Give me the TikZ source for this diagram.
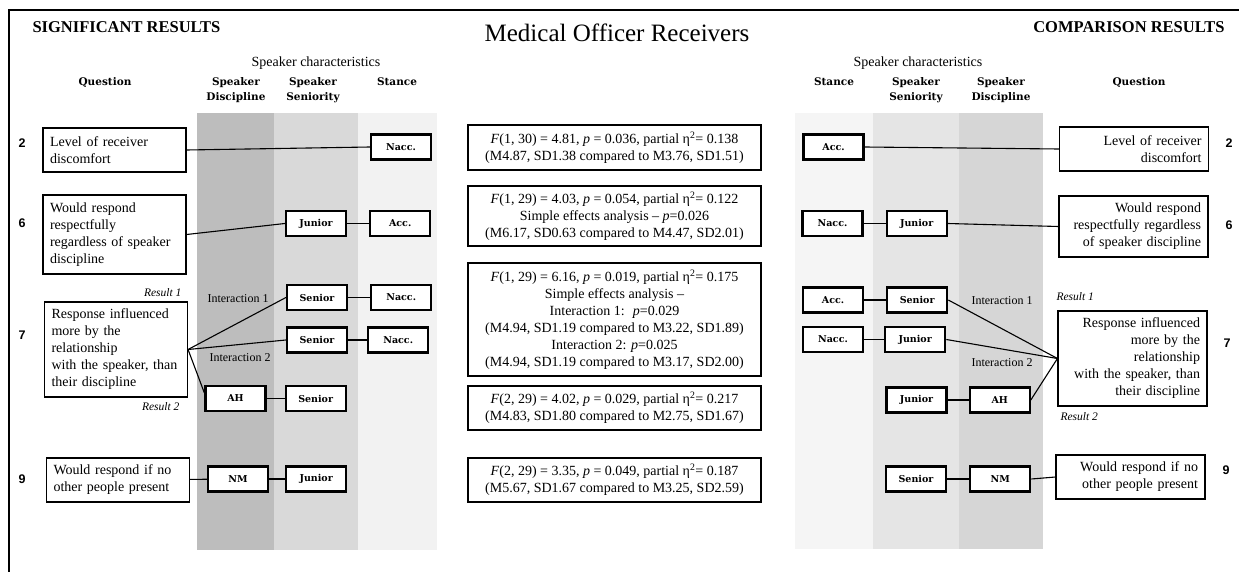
\documentclass[tikz,border=0pt]{standalone}
\usepackage{fontspec}
\setmainfont{Liberation Serif}
\newfontfamily\numfont{Liberation Sans}
\newfontfamily\lblfont{DejaVu Serif}
\usetikzlibrary{positioning}
\definecolor{discL}{gray}{0.74}
\definecolor{senL}{gray}{0.85}
\definecolor{stL}{gray}{0.95}
\definecolor{discR}{gray}{0.84}
\definecolor{senR}{gray}{0.90}
\definecolor{stR}{gray}{0.96}
\tikzset{
	qbox/.style={draw, fill=white, line width=1.1pt, inner xsep=7pt, font=\fontsize{14}{17}\selectfont},
	qleft/.style={qbox, text width=129pt, align=left},
	qright/.style={qbox, text width=135pt, align=right},
	rbox/.style={draw, fill=white, line width=1.1pt, minimum width=293pt, align=center, font=\fontsize{14}{17}\selectfont},
	sbox/.style={draw, fill=white, line width=2.2pt, minimum width=60pt, minimum height=25pt, inner sep=0pt, font=\lblfont\bfseries\fontsize{9.5}{11}\selectfont},
	hdr/.style={anchor=north, align=center, font=\lblfont\bfseries\fontsize{10.5}{15}\selectfont},
	num/.style={font=\numfont\bfseries\fontsize{12.5}{14}\selectfont},
	res/.style={font=\itshape\fontsize{11.5}{13}\selectfont},
	inter/.style={font=\fontsize{12}{14}\selectfont},
	conn/.style={line width=1.1pt}
}
\begin{document}
\begin{tikzpicture}[x=1pt,y=-1pt]
		\useasboundingbox (0,0) rectangle (1239,572);
		\fill[discL] (197,113) rectangle (274,550);
		\fill[senL] (274,113) rectangle (358,550);
		\fill[stL] (358,113) rectangle (437,550);
		\fill[stR] (795,113) rectangle (873,549);
		\fill[senR] (873,113) rectangle (959,549);
		\fill[discR] (959,113) rectangle (1043,549);
		\draw[line width=1.3pt] (9,572) -- (9,10) -- (1239,10);

		\node (sig) [anchor=west, font=\bfseries\fontsize{16.5}{18}\selectfont] at (29,27) {SIGNIFICANT RESULTS};
		\node (title) [font=\fontsize{25}{28}\selectfont] at (617,33) {Medical Officer Receivers};
		\node (comp) [anchor=east, font=\bfseries\fontsize{16.5}{18}\selectfont] at (1228,27) {COMPARISON RESULTS};

		\node (chL) [font=\fontsize{14}{16}\selectfont] at (316,63) {Speaker characteristics};
		\node (hQ) [hdr] at (105,74) {Question};
		\node (hD) [hdr] at (236,74) {Speaker\\Discipline};
		\node (hS) [hdr] at (313,74) {Speaker\\Seniority};
		\node (hT) [hdr] at (397,74) {Stance};
		\node (chR) [font=\fontsize{14}{16}\selectfont] at (918,63) {Speaker characteristics};
		\node (hTr) [hdr] at (834,74) {Stance};
		\node (hSr) [hdr] at (916,74) {Speaker\\Seniority};
		\node (hDr) [hdr] at (1001,74) {Speaker\\Discipline};
		\node (hQr) [hdr] at (1139,74) {Question};

		\node (n2) [num] at (22,143) {2};
		\node (n6) [num] at (22,223) {6};
		\node (n7) [num] at (22,335) {7};
		\node (n9) [num] at (22,479) {9};
		\node (n2r) [num] at (1229,143) {2};
		\node (n6r) [num] at (1229,225) {6};
		\node (n7r) [num] at (1227,343) {7};
		\node (n9r) [num] at (1226,470) {9};

		\node (Q2) [qleft, minimum height=44pt] at (114.5,150) {Level of receiver\\discomfort};
		\node (Q6) [qleft, minimum height=79pt] at (114.5,234.5) {Would respond\\respectfully\\regardless of speaker\\discipline};
		\node (Q7) [qleft, minimum height=95pt] at (116,349.5) {Response influenced\\more by the\\relationship\\with the speaker, than\\their discipline};
		\node (Q9) [qleft, minimum height=44pt] at (118,480) {Would respond if no\\other people present};
		\node (r1) [res, anchor=east] at (185,293) {Result 1};
		\node (r2) [res, anchor=east] at (183,407) {Result 2};
		\node (i1) [inter] at (238,299) {Interaction 1};
		\node (i2) [inter] at (240,358) {Interaction 2};

		\node (N2) [sbox] at (401,147) {Nacc.};
		\node (J6) [sbox] at (316,223.5) {Junior};
		\node (A6) [sbox, right=22pt of J6] {Acc.};
		\node (S7a) [sbox] at (317,297.5) {Senior};
		\node (N7a) [sbox, right=22pt of S7a] {Nacc.};
		\node (S7b) [sbox] at (317,340) {Senior};
		\node (N7b) [sbox, right=19pt of S7b] {Nacc.};
		\node (AH7) [sbox] at (235.5,398.5) {AH};
		\node (S7c) [sbox, right=18pt of AH7] {Senior};
		\node (NM9) [sbox] at (238,479) {NM};
		\node (J9) [sbox, right=16pt of NM9] {Junior};

		\node (R2) [rbox, minimum height=45pt] at (614.5,147.5) {\textit{F}(1, 30) = 4.81, \textit{p} = 0.036, partial η\textsuperscript{2}= 0.138\\(M4.87, SD1.38 compared to M3.76, SD1.51)};
		\node (R6) [rbox, minimum height=60pt] at (614.5,216) {\textit{F}(1, 29) = 4.03, \textit{p} = 0.054, partial η\textsuperscript{2}= 0.122\\Simple effects analysis -- \textit{p}=0.026\\(M6.17, SD0.63 compared to M4.47, SD2.01)};
		\node (R7a) [rbox, minimum height=113pt] at (614.5,319.5) {\textit{F}(1, 29) = 6.16, \textit{p} = 0.019, partial η\textsuperscript{2}= 0.175\\Simple effects analysis --\\Interaction 1:~ \textit{p}=0.029\\(M4.94, SD1.19 compared to M3.22, SD1.89)\\Interaction 2: \textit{p}=0.025\\(M4.94, SD1.19 compared to M3.17, SD2.00)};
		\node (R7b) [rbox, minimum height=44pt] at (614.5,408) {\textit{F}(2, 29) = 4.02, \textit{p} = 0.029, partial η\textsuperscript{2}= 0.217\\(M4.83, SD1.80 compared to M2.75, SD1.67)};
		\node (R9) [rbox, minimum height=44pt] at (614.5,480) {\textit{F}(2, 29) = 3.35, \textit{p} = 0.049, partial η\textsuperscript{2}= 0.187\\(M5.67, SD1.67 compared to M3.25, SD2.59)};

		\node (A2r) [sbox] at (833.5,147) {Acc.};
		\node (N6r) [sbox] at (832.5,223.5) {Nacc.};
		\node (J6r) [sbox, right=22pt of N6r] {Junior};
		\node (A7r) [sbox] at (833,300) {Acc.};
		\node (S7r) [sbox, right=22pt of A7r] {Senior};
		\node (N7r) [sbox] at (833,339.5) {Nacc.};
		\node (J7r) [sbox, right=20pt of N7r] {Junior};
		\node (J7s) [sbox] at (916.5,400) {Junior};
		\node (AH7r) [sbox, right=21pt of J7s] {AH};
		\node (S9r) [sbox] at (916,479) {Senior};
		\node (NM9r) [sbox, right=22pt of S9r] {NM};

		\node (Q2r) [qright, minimum height=44pt] at (1134,149) {Level of receiver\\discomfort};
		\node (Q6r) [qright, minimum height=61pt] at (1133.5,226.5) {Would respond\\respectfully regardless\\of speaker discipline};
		\node (Q7r) [qright, minimum height=95pt] at (1132.5,358.5) {Response influenced\\more by the\\relationship\\with the speaker, than\\their discipline};
		\node (Q9r) [qright, minimum height=44pt] at (1130.5,477) {Would respond if no\\other people present};
		\node (r1r) [res, anchor=west] at (1053,297) {Result 1};
		\node (r2r) [res, anchor=west] at (1057,417) {Result 2};
		\node (i1r) [inter] at (1002,301) {Interaction 1};
		\node (i2r) [inter] at (1002,363) {Interaction 2};

		\path[conn]
		  (Q2.east) edge (N2.west)
		  (Q6.east) edge (J6.west)
		  (J6) edge (A6)
		  (Q7.east) edge (S7a.west)
		            edge (S7b.west)
		            edge (AH7.170)
		  (S7a) edge (N7a)
		  (S7b) edge (N7b)
		  (AH7) edge (S7c)
		  (Q9) edge (NM9)
		  (NM9) edge (J9);
		\path[conn]
		  (A2r.east) edge (Q2r.west)
		  (N6r) edge (J6r)
		  (J6r.east) edge (Q6r.west)
		  (A7r) edge (S7r)
		  (N7r) edge (J7r)
		  (J7s) edge (AH7r)
		  (Q7r.west) edge (S7r.east)
		             edge (J7r.east)
		             edge (AH7r.east)
		  (S9r) edge (NM9r)
		  (NM9r.east) edge (Q9r.west);
\end{tikzpicture}
\end{document}
